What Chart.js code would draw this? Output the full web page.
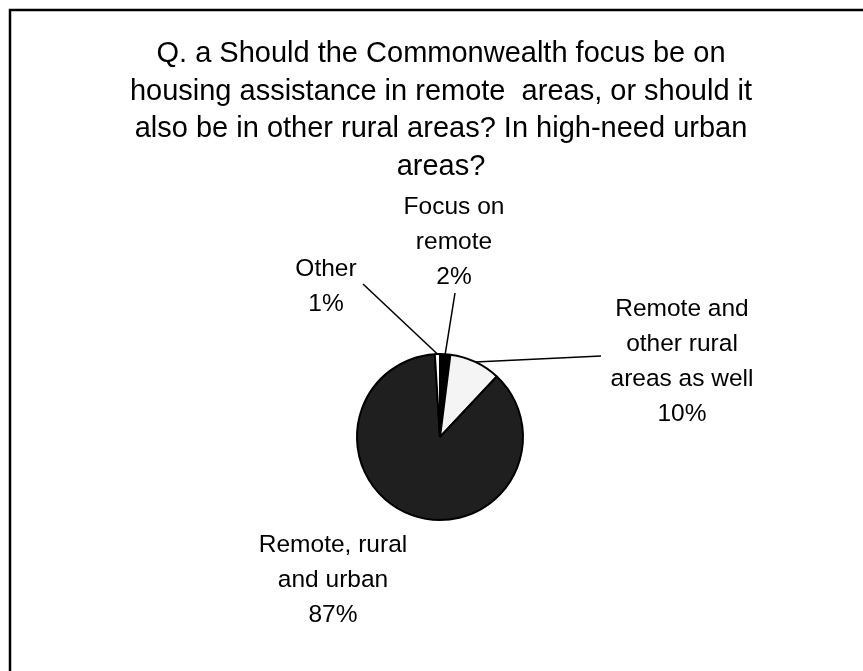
<!DOCTYPE html>
<html>
<head>
<meta charset="utf-8">
<script src="https://cdn.jsdelivr.net/npm/chart.js@4.4.0/dist/chart.umd.min.js"></script>
<style>
  html, body { margin: 0; padding: 0; background: #ffffff; }
  #wrap { width: 863px; height: 671px; position: relative; }
  canvas { display: block; }
</style>
</head>
<body>
<div id="wrap"><canvas id="c" width="863" height="671"></canvas></div>
<script>
// Survey question shown above the pie
const titleLines = [
  'Q. a Should the Commonwealth focus be on',
  'housing assistance in remote  areas, or should it',
  'also be in other rural areas? In high-need urban',
  'areas?'
];

// Answer categories, in clockwise order from 12 o'clock
const categories = [
  'Focus on remote',
  'Remote and other rural areas as well',
  'Remote, rural and urban',
  'Other'
];

// Share of responses (%)
const shares = [2, 10, 87, 1];

// Wrapped label text for each category (percentage line is added from shares)
const labelLines = [
  ['Focus on', 'remote'],
  ['Remote and', 'other rural', 'areas as well'],
  ['Remote, rural', 'and urban'],
  ['Other']
];

// Slice fills
const sliceColors = ['#000000', '#f4f4f4', '#1f1f1f', '#ffffff'];

// Label placement: centre x, first line centre y, leader line start (null = no leader)
const labelPlacement = [
  { x: 454, y: 205, leader: [455, 293] },
  { x: 682, y: 307, leader: [601, 356] },
  { x: 333, y: 543, leader: null },
  { x: 326, y: 267, leader: [363, 284] }
];

const FONT = '"Liberation Sans", Arial, Helvetica, sans-serif';

const annotations = {
  id: 'annotations',
  afterDraw(chart) {
    const ctx = chart.ctx;
    ctx.save();

    // frame: left and top edges
    ctx.strokeStyle = '#000000';
    ctx.lineWidth = 2.5;
    ctx.beginPath();
    ctx.moveTo(10, 671);
    ctx.lineTo(10, 10);
    ctx.lineTo(863, 10);
    ctx.stroke();

    // title
    ctx.fillStyle = '#000000';
    ctx.textAlign = 'center';
    ctx.textBaseline = 'alphabetic';
    const tSize = 29;
    ctx.font = tSize + 'px ' + FONT;
    titleLines.forEach((line, i) => {
      ctx.fillText(line, 441, 52 + i * 37.5 + 0.358 * tSize);
    });

    // category labels with leader lines to the slice edge
    const meta = chart.getDatasetMeta(0);
    const lSize = 24.5;
    ctx.font = lSize + 'px ' + FONT;
    categories.forEach((cat, i) => {
      const p = labelPlacement[i];
      const lines = labelLines[i].concat([shares[i] + '%']);
      lines.forEach((line, j) => {
        ctx.fillText(line, p.x, p.y + j * 35 + 0.358 * lSize);
      });
      if (p.leader) {
        const arc = meta.data[i];
        const mid = (arc.startAngle + arc.endAngle) / 2;
        const ex = arc.x + Math.cos(mid) * arc.outerRadius;
        const ey = arc.y + Math.sin(mid) * arc.outerRadius;
        ctx.strokeStyle = '#000000';
        ctx.lineWidth = 1.5;
        ctx.beginPath();
        ctx.moveTo(p.leader[0], p.leader[1]);
        ctx.lineTo(ex, ey);
        ctx.stroke();
      }
    });

    ctx.restore();
  }
};

new Chart(document.getElementById('c'), {
  type: 'pie',
  data: {
    labels: categories,
    datasets: [{
      data: shares,
      backgroundColor: sliceColors,
      borderColor: '#000000',
      borderWidth: 2
    }]
  },
  options: {
    responsive: false,
    animation: false,
    devicePixelRatio: 1,
    layout: { padding: { left: 356, right: 339, top: 353, bottom: 150 } },
    plugins: {
      legend: { display: false },
      tooltip: { enabled: false },
      title: { display: false }
    }
  },
  plugins: [annotations]
});
</script>
</body>
</html>
